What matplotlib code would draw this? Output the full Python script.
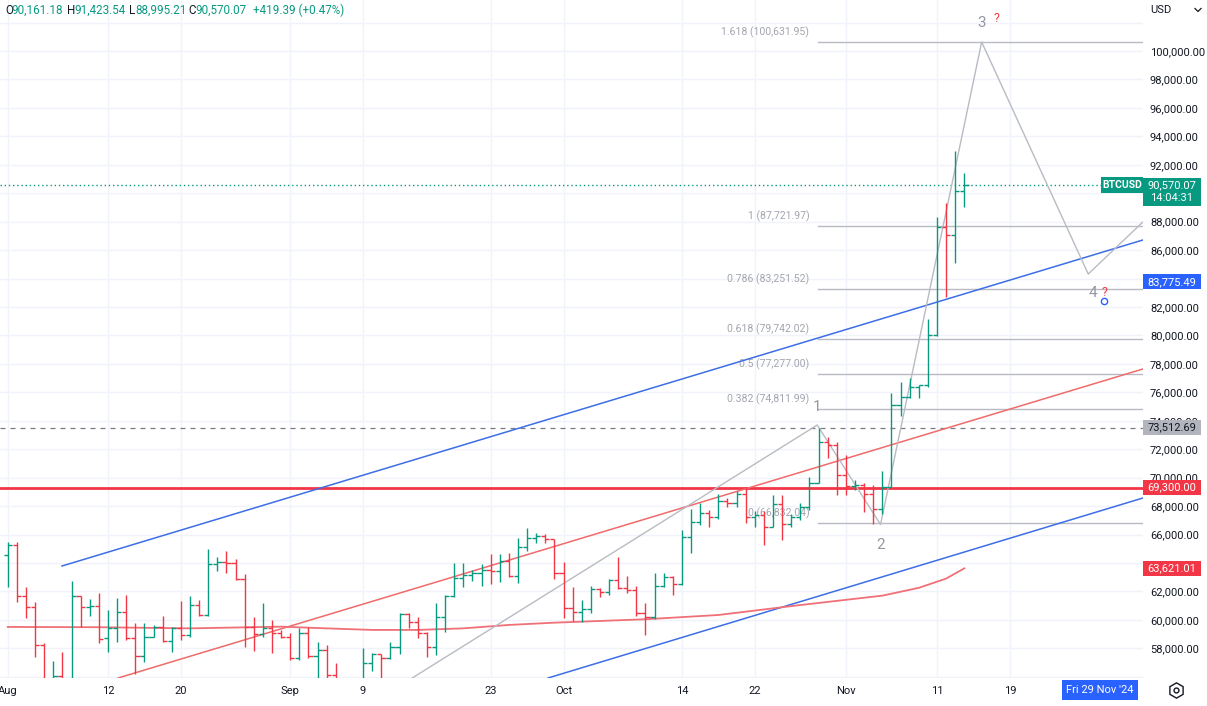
import matplotlib
matplotlib.use('Agg')
import matplotlib.pyplot as plt
import matplotlib.transforms as mtransforms
from matplotlib.patches import Rectangle
from matplotlib.lines import Line2D
import numpy as np
import pandas as pd

plt.rcParams['font.family'] = ['Roboto', 'DejaVu Sans']

W, H, DPI = 1207, 706, 100

# ---------------- data (daily BTCUSD, Aug 1 .. Nov 14 2024) ----------------
start_date = '2024-08-01'
opens = [64559, 65262, 61699, 60926, 58230, 54000, 56074, 55100, 61676, 60879,
         60973, 58699, 59402, 60574, 58699, 57457, 58817, 59520, 58535, 59402,
         58934, 61043, 60340, 63926, 64043, 63990, 62848, 59500, 59004, 59402,
         59098, 58770, 57293, 59051, 57457, 57878, 56121, 53960, 54160, 54870,
         56988, 57597, 57293, 58112, 60410, 59870, 59097, 58112, 60223, 61676,
         62918, 63152, 63316, 63504, 63400, 64160, 63082, 65098, 65731, 65895,
         65660, 63316, 60808, 60574, 60738, 62145, 61981, 62801, 62215, 62098,
         60504, 60176, 62379, 63036, 62520, 65848, 66903, 67489, 67255, 68380,
         68192, 68849, 67255, 67372, 66552, 68145, 66739, 67207, 67911, 69645,
         72528, 72294, 70184, 69434, 69481, 68848, 67793, 69364, 75107, 75693,
         76396, 76513, 80029, 87600, 87061, 90161.18]
highs = [65497, 65497, 62332, 61277, 58394, 57105, 57761, 62731, 61700, 61465,
         61863, 60691, 61512, 61746, 59754, 59754, 59637, 60270, 59520, 61324,
         61699, 61395, 64981, 64395, 64864, 64254, 63200, 60176, 61207, 59988,
         59285, 59051, 59402, 59519, 58464, 58230, 56941, 54850, 55300, 57995,
         57700, 57620, 58464, 60457, 60457, 60223, 59150, 61207, 61746, 63973,
         63973, 63504, 63926, 64629, 64629, 64723, 65731, 66434, 66129, 66035,
         65700, 64090, 62332, 61394, 62379, 62215, 62848, 64395, 63106, 62379,
         61207, 63270, 63270, 63100, 66317, 67770, 68192, 67723, 68849, 68544,
         69083, 69317, 67677, 67677, 68778, 68778, 67442, 68192, 70020, 73466,
         72880, 72528, 71591, 69833, 69598, 69481, 70489, 75927, 76748, 76982,
         76513, 81131, 88303, 89288, 92992, 91423.54]
lows = [62285, 61277, 60105, 57410, 49000, 53900, 54500, 54700, 59520, 60293,
        58347, 57714, 58464, 58582, 56191, 57058, 58770, 58464, 57761, 58582,
        58800, 60293, 60300, 63457, 63270, 62801, 58113, 57831, 58770, 57691,
        58700, 57175, 57175, 57350, 55600, 55700, 52550, 53750, 53650, 54590,
        56400, 55550, 57250, 57597, 59400, 58699, 57410, 57527, 59168, 61600,
        62332, 62754, 62379, 62520, 62684, 63035, 62613, 64863, 65426, 65426,
        62848, 60105, 59941, 59870, 60500, 61629, 61746, 62145, 61863, 60270,
        58934, 60035, 62300, 61746, 62450, 64723, 66669, 66505, 67067, 67958,
        67911, 66786, 66552, 65262, 66552, 65613, 66505, 67020, 67724, 69598,
        71400, 68778, 68778, 69130, 67606, 66739, 67442, 69364, 74334, 75576,
        75576, 76396, 79959, 82678, 85069, 88995.21]
closes = [65262, 61699, 60926, 58230, 54000, 56074, 55100, 61676, 60879, 60973,
          58652, 59402, 60574, 58699, 57457, 58817, 59520, 58535, 59402, 58934,
          61043, 60340, 63926, 64043, 63990, 62848, 59500, 59004, 59402, 59098,
          58770, 57293, 59051, 57457, 57878, 56121, 53960, 54160, 54870, 56988,
          57597, 57293, 58112, 60410, 59870, 59097, 58112, 60223, 61676, 62918,
          63152, 63316, 63504, 63400, 64160, 63082, 65098, 65731, 65895, 65660,
          63316, 60808, 60574, 60738, 62145, 61981, 62801, 62215, 62098, 60504,
          60176, 62379, 63036, 62520, 65848, 66903, 67489, 67255, 68380, 68192,
          68849, 67255, 67372, 66552, 68145, 66739, 67207, 67911, 69645, 72528,
          72294, 70184, 69434, 69481, 68848, 67793, 69364, 75107, 75693, 76396,
          76513, 80029, 87600, 87061, 90150.68, 90570.07]

ma_dates = ['2024-08-01', '2024-08-11', '2024-08-21', '2024-08-31', '2024-09-05',
            '2024-09-10', '2024-09-15', '2024-09-20', '2024-09-25', '2024-09-30',
            '2024-10-10', '2024-10-18', '2024-10-27', '2024-11-05', '2024-11-09',
            '2024-11-12', '2024-11-14']
ma_values = [59500, 59480, 59400, 59520, 59400, 59290, 59290, 59400, 59640, 59800,
             60040, 60340, 61040, 61700, 62250, 62900, 63621.01]

# Elliott wave path (gray): 0 -> 1 -> 2 -> 3 -> 4 -> 5
wave_days = [36, 88.85, 95.8, 106.9, 118.6, 124.7]
wave_prices = [52550, 73700, 66700, 100631.95, 84319, 88040]
wave_labels = ['', '1', '2', '3', '4', '']

# Fibonacci extension levels
fib_ratios = ['1.618', '1', '0.786', '0.618', '0.5', '0.382', '0']
fib_prices = [100631.95, 87721.97, 83251.52, 79742.02, 77277.00, 74811.99, 66832.04]
fib_start_day = 88.9

# trend lines: (day, price) pairs
blue_upper = [(5.95, 63785), (124.6, 86710)]
blue_lower = [(59.3, 55909), (124.6, 68567)]
red_trend = [(12.1, 55909), (124.6, 77638)]
support_level = 69300.00
dashed_level = 73512.69
alert_level = 83775.49
last_price = 90570.07

x_tick_days = [0, 11, 19, 31, 39, 53, 61, 74, 82, 92, 102, 110]
x_tick_labels = ['Aug', '12', '20', 'Sep', '9', '23', 'Oct', '14', '22', 'Nov', '11', '19']
grid_prices = list(range(56000, 104000, 2000))
y_tick_prices = [58000, 60000, 62000, 66000, 68000, 70000, 72000, 74000, 76000, 78000,
                 80000, 82000, 86000, 88000, 92000, 94000, 96000, 98000, 100000]

# ---------------- figure ----------------
GREEN = '#089981'
RED = '#f23645'
BLUE = '#2962ff'
TXT = '#131722'
GRAY = '#a3a6af'

fig = plt.figure(figsize=(W / DPI, H / DPI), dpi=DPI)
fig.patch.set_facecolor('white')
ax = fig.add_axes([0, 28 / H, 1143 / W, 678 / H])
px_day = 9.11
x0_px = 7.8
ax.set_xlim(-x0_px / px_day, (1143 - x0_px) / px_day)
ppx = 70.32
ax.set_ylim(100000 - 627 * ppx, 100000 + 51 * ppx)
for s in ax.spines.values():
    s.set_visible(False)

start = pd.Timestamp(start_date)
days = np.arange(len(opens), dtype=float)
o = np.array(opens); h = np.array(highs); l = np.array(lows); c = np.array(closes)
cols = [GREEN if cc >= oo else RED for oo, cc in zip(o, c)]

# grid (drawn manually) and tick labels
for gp in grid_prices:
    ax.axhline(gp, color='#f0f3fa', linewidth=1, zorder=0)
for gd in x_tick_days:
    ax.axvline(gd, color='#f0f3fa', linewidth=1, zorder=0)
ax.set_yticks(y_tick_prices)
ax.set_yticklabels([f'{v:,.2f}' for v in y_tick_prices])
ax.set_xticks(x_tick_days)
ax.set_xticklabels(x_tick_labels)
ax.yaxis.tick_right()
ax.tick_params(axis='y', length=0, pad=5, labelsize=8, labelcolor=TXT)
ax.tick_params(axis='x', length=0, pad=6, labelsize=8, labelcolor=TXT)

xmin, xmax = ax.get_xlim()

# horizontal lines
ax.axhline(support_level, color=RED, linewidth=2, zorder=2)
ax.axhline(dashed_level, color='#787b86', linewidth=0.9, linestyle=(0, (4, 4)), zorder=2)
ax.plot([xmin, (1101 - x0_px) / px_day], [last_price, last_price], color=GREEN,
        linewidth=1, linestyle=(0, (1, 2)), zorder=2)

# trendlines (extended to the right edge)
def extend(p, color):
    (d1, p1), (d2, p2) = p
    slope = (p2 - p1) / (d2 - d1)
    ax.plot([d1, xmax], [p1, p1 + slope * (xmax - d1)], color=color, linewidth=1.1, zorder=3)

extend(blue_upper, '#3d6ee6')
extend(blue_lower, '#3d6ee6')
extend(red_trend, '#f06b6b')

# moving average
ma_x = [(pd.Timestamp(d) - start).days for d in ma_dates]
ax.plot(ma_x, ma_values, color='#f07078', linewidth=1.3, zorder=3)

# fib levels
for r, p in zip(fib_ratios, fib_prices):
    ax.plot([fib_start_day, xmax], [p, p], color='#b8bbc3', linewidth=1, zorder=2)
    ax.annotate(f'{r} ({p:,.2f})', xy=(fib_start_day, p), xytext=(-6, 7),
                textcoords='offset points', ha='right', va='center',
                fontsize=7.6, color=GRAY, zorder=2)

# wave path
ax.plot(wave_days, wave_prices, color='#b8bbc3', linewidth=1, zorder=3, clip_on=True)
lbl_off = {'1': (0, 13), '2': (0, -15), '3': (0, 14), '4': (3, -14)}
for d, p, t in zip(wave_days, wave_prices, wave_labels):
    if t:
        dx, dy = lbl_off[t]
        ax.annotate(t, xy=(d, p), xytext=(dx, dy), textcoords='offset points',
                    ha='center', va='center', fontsize=11, color='#9598a1', zorder=5)
ax.annotate('?', xy=(wave_days[3], wave_prices[3]), xytext=(11, 17), textcoords='offset points',
            ha='center', va='center', fontsize=9, color=RED, zorder=5)
ax.annotate('?', xy=(wave_days[4], wave_prices[4]), xytext=(12, -13), textcoords='offset points',
            ha='center', va='center', fontsize=9, color=RED, zorder=5)
ax.plot([wave_days[4] + 1.75], [wave_prices[4] - 1900], marker='o', markersize=4.5,
        mfc='none', mec=BLUE, mew=1, zorder=5)

# OHLC bars
tick = 0.46
ax.vlines(days, l, h, colors=cols, linewidth=1.0, zorder=4)
ax.hlines(o, days - tick, days, colors=cols, linewidth=1.0, zorder=4)
ax.hlines(c, days, days + tick, colors=cols, linewidth=1.0, zorder=4)

# ---------------- labels on the price axis ----------------
blend = mtransforms.blended_transform_factory(fig.transFigure, ax.transData)

def price_box(price, text, bg, fg, x0=1143, x1=1201, hpx=15.5, fs=8):
    fig.add_artist(Rectangle((x0 / W, price - hpx / 2 * ppx), (x1 - x0) / W, hpx * ppx,
                             transform=blend, facecolor=bg, edgecolor='none', zorder=10))
    fig.text((x0 + x1) / 2 / W, price, text, transform=blend, ha='center', va='center',
             color=fg, fontsize=fs, zorder=11)

price_box(alert_level, f'{alert_level:,.2f}', BLUE, 'white')
price_box(dashed_level, f'{dashed_level:,.2f}', '#b2b5be', TXT)
price_box(support_level, f'{support_level:,.2f}', RED, 'white')
price_box(ma_values[-1], f'{ma_values[-1]:,.2f}', RED, 'white')
# last price box (two lines)
fig.add_artist(Rectangle((1143 / W, last_price - 20.5 * ppx), 58 / W, 28 * ppx,
                         transform=blend, facecolor=GREEN, edgecolor='none', zorder=10))
fig.text(1172 / W, last_price, f'{last_price:,.2f}', transform=blend, ha='center', va='center',
         color='white', fontsize=8, zorder=11)
fig.text(1172 / W, last_price - 13 * ppx, '14:04:31', transform=blend, ha='center', va='center',
         color='white', fontsize=8, zorder=11)
fig.add_artist(Rectangle((1101 / W, last_price - 7.5 * ppx), 42 / W, 15.5 * ppx,
                         transform=blend, facecolor=GREEN, edgecolor='none', zorder=10))
fig.text(1122 / W, last_price, 'BTCUSD', transform=blend, ha='center', va='center',
         color='white', fontsize=7.5, fontweight='bold', zorder=11)

# top-right currency selector
fig.text(1150 / W, 1 - 10 / H, 'USD', ha='left', va='center', fontsize=8, color=TXT, zorder=11)
fig.add_artist(Line2D([1195 / W, 1198 / W, 1201 / W], [1 - 8.5 / H, 1 - 11.5 / H, 1 - 8.5 / H],
                      transform=fig.transFigure, color=TXT, linewidth=0.9, zorder=11))

# date label box at the bottom
fig.add_artist(Rectangle((1062 / W, 1 - 700 / H), 76 / W, 20 / H, transform=fig.transFigure,
                         facecolor=BLUE, edgecolor='none', zorder=10))
fig.text(1100 / W, 1 - 690 / H, "Fri 29 Nov '24", ha='center', va='center', fontsize=8,
         color='white', zorder=11)
# settings icon
fig.add_artist(Line2D([1176 / W], [1 - 690 / H], marker='h', markersize=11, mfc='none',
                      mec=TXT, mew=1, transform=fig.transFigure, zorder=11))
fig.add_artist(Line2D([1176 / W], [1 - 690 / H], marker='o', markersize=3.5, mfc='none',
                      mec=TXT, mew=1, transform=fig.transFigure, zorder=11))

# header OHLC
prev_close = closes[-2]
chg = closes[-1] - prev_close
hdr = [(5, 'O', TXT), (11, f'{opens[-1]:,.2f}', GREEN), (67, 'H', TXT), (74, f'{highs[-1]:,.2f}', GREEN),
       (129, 'L', TXT), (135, f'{lows[-1]:,.2f}', GREEN), (188, 'C', TXT),
       (195, f'{closes[-1]:,.2f}', GREEN),
       (253, f'+{chg:,.2f} (+{chg / prev_close * 100:.2f}%)', GREEN)]
for xp, t, col in hdr:
    fig.text(xp / W, 1 - 10 / H, t, ha='left', va='center', fontsize=8.4, color=col, zorder=11)

fig.savefig('out.png', dpi=DPI)
